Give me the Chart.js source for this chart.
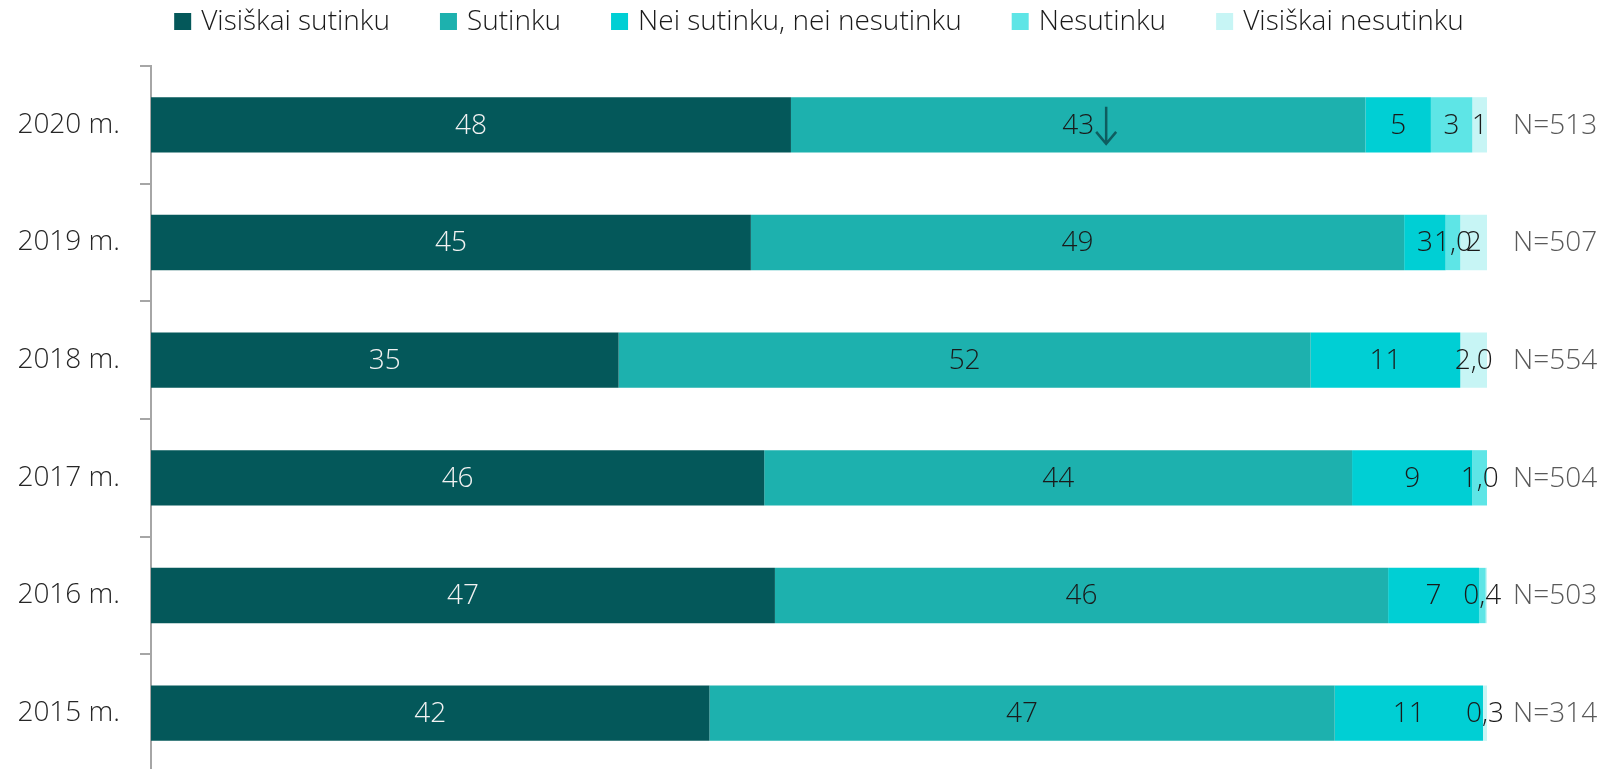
<!DOCTYPE html>
<html>
<head>
<meta charset="utf-8">
<script src="https://cdn.jsdelivr.net/npm/chart.js@4.4.1/dist/chart.umd.min.js"></script>
<style>
  html, body { margin: 0; padding: 0; background: #fff; overflow: hidden; }
  canvas { display: block; }
</style>
</head>
<body>
<canvas id="chart" width="1604" height="772"></canvas>
<script>
// categories (top to bottom)
const years = ['2020 m.', '2019 m.', '2018 m.', '2017 m.', '2016 m.', '2015 m.'];
const sampleSizes = ['N=513', 'N=507', 'N=554', 'N=504', 'N=503', 'N=314'];
const seriesNames = ['Visiškai sutinku', 'Sutinku', 'Nei sutinku, nei nesutinku', 'Nesutinku', 'Visiškai nesutinku'];
const seriesColors = ['#04585a', '#1db1ae', '#00cfd4', '#5ee5e6', '#c7f5f5'];

// shares, %
const stronglyAgree    = [47.9, 44.9, 35.0, 45.9, 46.7, 41.8];
const agree            = [43.0, 48.9, 51.8, 44.0, 45.9, 46.8];
const neutral          = [4.9, 3.1, 11.2, 9.0, 6.8, 11.1];
const disagree         = [3.1, 1.1, 0, 1.1, 0.5, 0];
const stronglyDisagree = [1.1, 2.0, 2.0, 0, 0.1, 0.3];

// labels as printed on the bars
const stronglyAgreeText    = ['48', '45', '35', '46', '47', '42'];
const agreeText            = ['43', '49', '52', '44', '46', '47'];
const neutralText          = ['5', '3', '11', '9', '7', '11'];
const disagreeText         = ['3', '1,0', '', '1,0', '0,4', ''];
const stronglyDisagreeText = ['1', '2', '2,0', '', '', '0,3'];
const agreeTrend = ['down', '', '', '', '', ''];

const FONT = '"Open Sans", "Noto Sans", sans-serif';

const values = [stronglyAgree, agree, neutral, disagree, stronglyDisagree];
const texts = [stronglyAgreeText, agreeText, neutralText, disagreeText, stronglyDisagreeText];

const datasets = seriesNames.map((name, i) => ({
  label: name,
  data: values[i],
  labelText: texts[i],
  trend: i === 1 ? agreeTrend : null,
  backgroundColor: seriesColors[i],
  borderWidth: 0,
  barPercentage: 0.47,
  categoryPercentage: 1
}));

// labels on bars, N= on the right, and the legend on top
const barLabels = {
  id: 'barLabels',
  afterDraw(chart) {
    const ctx = chart.ctx;
    const area = chart.chartArea;
    ctx.save();
    ctx.font = '300 28px ' + FONT;
    ctx.textBaseline = 'middle';
    ctx.textAlign = 'center';

    chart.data.datasets.forEach((ds, i) => {
      const meta = chart.getDatasetMeta(i);
      meta.data.forEach((bar, j) => {
        const txt = ds.labelText[j];
        if (!txt) return;
        const cx = (bar.x + bar.base) / 2;
        ctx.fillStyle = i === 0 ? '#f2f2f2' : '#1a1a1a';
        ctx.fillText(txt, cx, bar.y + 1);
        if (ds.trend && ds.trend[j] === 'down') {
          const w = ctx.measureText(txt).width;
          const ax = cx + w / 2 + 12;
          const top = bar.y - 18, bottom = bar.y + 19;
          ctx.strokeStyle = '#0e5d5f';
          ctx.lineWidth = 2.5;
          ctx.beginPath();
          ctx.moveTo(ax, top);
          ctx.lineTo(ax, bottom);
          ctx.moveTo(ax - 10, bottom - 12);
          ctx.lineTo(ax, bottom);
          ctx.lineTo(ax + 10, bottom - 12);
          ctx.stroke();
        }
      });
    });

    // sample sizes
    const xs = chart.scales.x, ys = chart.scales.y;
    ctx.textAlign = 'left';
    ctx.fillStyle = '#595959';
    sampleSizes.forEach((t, j) => {
      ctx.fillText(t, xs.getPixelForValue(100) + 26, ys.getPixelForValue(j) + 1);
    });

    // legend
    const box = 17, gapText = 10, gapItem = 50;
    const widths = seriesNames.map(n => ctx.measureText(n).width);
    let total = widths.reduce((a, w) => a + box + gapText + w, 0) + gapItem * (seriesNames.length - 1);
    let x = (area.left + area.right) / 2 - total / 2;
    seriesNames.forEach((n, i) => {
      ctx.fillStyle = seriesColors[i];
      ctx.fillRect(x, 13, box, box);
      ctx.fillStyle = '#1a1a1a';
      ctx.fillText(n, x + box + gapText, 22);
      x += box + gapText + widths[i] + gapItem;
    });
    ctx.restore();
  }
};

new Chart(document.getElementById('chart'), {
  type: 'bar',
  data: { labels: years, datasets: datasets },
  options: {
    indexAxis: 'y',
    responsive: false,
    animation: false,
    layout: { padding: { top: 66, right: 117, bottom: 0, left: 0 } },
    plugins: { legend: { display: false }, tooltip: { enabled: false } },
    scales: {
      x: { display: false, stacked: true, min: 0, max: 100 },
      y: {
        stacked: true,
        grid: { drawOnChartArea: false, tickLength: 11, color: '#a6a6a6', lineWidth: 2 },
        border: { color: '#a6a6a6', width: 2 },
        ticks: { color: '#262626', font: { size: 28, family: FONT, weight: '300' }, padding: 20 },
        afterFit(s) {
          s.width = 151;
          s.paddingTop = 0;
          s.paddingBottom = 0;
        }
      }
    }
  },
  plugins: [barLabels]
});
</script>
</body>
</html>
